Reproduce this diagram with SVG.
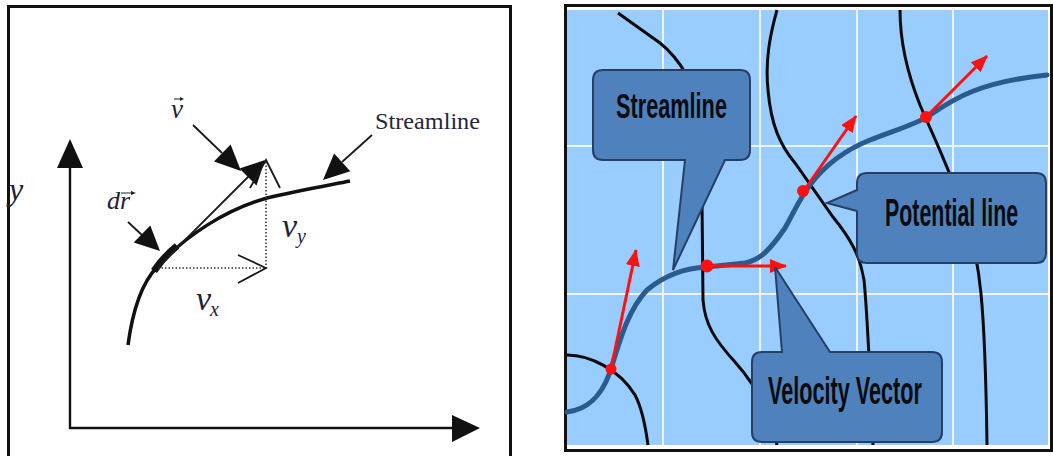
<svg xmlns="http://www.w3.org/2000/svg" width="1053" height="456" viewBox="0 0 1053 456">
<style>
.serif{font-family:"Liberation Serif","Times New Roman",serif;font-style:italic;fill:#1d2236}
.lbl{font-family:"Liberation Serif","Times New Roman",serif;fill:#22273b}
.ax{stroke:#111;stroke-width:2.4;fill:none}
.thin{stroke:#1a1a1a;stroke-width:1.8;fill:none}
.dot{stroke:#333;stroke-width:1.6;fill:none;stroke-dasharray:1.5 2}
.head{fill:#111}
.pot{stroke:#0a0a0a;stroke-width:3;fill:none}
.grid{stroke:#eef4fb;stroke-width:2}
.stream{stroke:#2b5b8e;stroke-width:5;fill:none;stroke-linecap:round}
.vel{stroke:#ff1010;stroke-width:3;fill:none}
.call{fill:#4f81bd;stroke:#263f63;stroke-width:2}
.ct{font-family:"Liberation Sans",Arial,sans-serif;font-weight:bold;fill:#0b0b10}
</style>
<defs>
<marker id="ra" markerUnits="userSpaceOnUse" markerWidth="18" markerHeight="14" refX="16" refY="7" orient="auto">
<path d="M0,0 L17,7 L0,14 Z" fill="#ff1010"/>
</marker>
</defs>
<rect width="1053" height="456" fill="#ffffff"/>

<!-- Left panel -->
<g id="left-panel">
<rect x="8.5" y="6.5" width="502" height="470" fill="#ffffff" stroke="#111" stroke-width="3"/>
</g>
<g id="axes">
<path class="ax" d="M70,166 V428 H454"/>
<polygon class="head" points="70,139 57,168 83,168"/>
<polygon class="head" points="480,428 452,415 452,442"/>
<text class="serif" x="9" y="200" font-size="32">y</text>
</g>
<g id="streamline-curve">
<path d="M128,345 C132,315 140,285 157,267 C185,236 225,210 267,198 C300,190 330,185 350,181" stroke="#111" stroke-width="3.5" fill="none"/>
<path d="M154,271 C160,262 167,254 177,246" stroke="#111" stroke-width="7" fill="none"/>
</g>
<g id="vectors">
<line class="thin" x1="158" y1="267" x2="250" y2="175"/>
<polygon class="head" points="265,160 256.5,185.5 239.5,168.5"/>
<line class="dot" x1="266" y1="162" x2="266" y2="268"/>
<polyline class="thin" points="250,188 266,160 280,188"/>
<line class="dot" x1="158" y1="268" x2="265" y2="268"/>
<polyline class="thin" points="238,255 266,268 238,283"/>
</g>
<g id="label-v">
<text class="serif" x="171" y="118" font-size="27">v</text>
<line x1="174" y1="99" x2="182" y2="99" stroke="#1d2236" stroke-width="1"/>
<polygon points="184,99 180,97 180,101" fill="#1d2236"/>
<line class="thin" x1="193" y1="125" x2="222" y2="153"/>
<polygon class="head" points="241,171 230.6,144.4 214,161.6"/>
</g>
<g id="label-dr">
<text class="serif" x="107" y="209" font-size="26">dr</text>
<line x1="121" y1="193" x2="133" y2="193" stroke="#1d2236" stroke-width="1"/>
<polygon points="136,193 131,191 131,195" fill="#1d2236"/>
<line class="thin" x1="128" y1="222" x2="143" y2="236"/>
<polygon class="head" points="160,251 150.3,225.4 133.7,242.6"/>
</g>
<g id="label-streamline">
<text class="lbl" x="375" y="129" font-size="24" textLength="105" lengthAdjust="spacingAndGlyphs">Streamline</text>
<line class="thin" x1="372" y1="135" x2="342" y2="162"/>
<polygon class="head" points="323,180 350.3,171.2 334.1,153.6"/>
</g>
<g id="label-vy">
<text class="serif" x="282" y="237" font-size="34">v</text>
<text class="serif" x="297" y="243" font-size="20">y</text>
</g>
<g id="label-vx">
<text class="serif" x="196" y="310" font-size="34">v</text>
<text class="serif" x="210" y="316" font-size="20">x</text>
</g>

<!-- Right panel -->
<g id="right-panel">
<rect x="565.5" y="5.5" width="486" height="445" fill="#ffffff" stroke="#111" stroke-width="3"/>
<rect x="567" y="10" width="481" height="435" fill="#99ccff"/>
<line class="grid" x1="663" y1="10" x2="663" y2="445"/>
<line class="grid" x1="760" y1="10" x2="760" y2="445"/>
<line class="grid" x1="857" y1="10" x2="857" y2="445"/>
<line class="grid" x1="953" y1="10" x2="953" y2="445"/>
<line class="grid" x1="567" y1="146" x2="1048" y2="146"/>
<line class="grid" x1="567" y1="294" x2="1048" y2="294"/>
</g>
<g id="potential-lines">
<path class="pot" d="M618,13 L660,43 Q675,55 686,74"/>
<path class="pot" d="M567,355 C590,355 620,370 635,395 C643,410 646,430 648,445"/>
<path class="pot" d="M777,10 C770,35 765,60 768,90 C771,125 780,145 795,163 L833,217 C850,238 860,255 864,280 C868,320 870,380 873,445"/>
<path class="pot" d="M702,200 L703,300 C705,325 715,340 735,362 C760,390 772,420 777,445"/>
<path class="pot" d="M900,10 C900,45 908,75 920,105 C935,140 950,170 965,215 C980,260 985,300 987,445"/>
</g>
<g id="streamline-blue">
<path class="stream" d="M567,412 C585,410 600,400 610,372 C620,340 628,310 647,290 C665,275 685,268 707,267 L745,263 C760,260 770,250 785,228 C795,210 800,198 810,185 C825,165 845,150 870,140 C895,130 915,125 930,115 C955,98 980,82 1047,75"/>
</g>
<g id="velocity-vectors">
<line class="vel" x1="611" y1="369" x2="636" y2="250" marker-end="url(#ra)"/>
<line class="vel" x1="707" y1="266" x2="786" y2="266" stroke-width="5" marker-end="url(#ra)"/>
<line class="vel" x1="803" y1="192" x2="856" y2="116" marker-end="url(#ra)"/>
<line class="vel" x1="926" y1="117" x2="987" y2="56" marker-end="url(#ra)"/>
<circle cx="611" cy="369" r="5.5" fill="#ff1010"/>
<circle cx="707" cy="266" r="6.5" fill="#ff1010"/>
<circle cx="803" cy="191" r="6" fill="#ff1010"/>
<circle cx="926" cy="117" r="6" fill="#ff1010"/>
</g>
<g id="callout-streamline">
<path class="call" d="M603,70 H740 Q750,70 750,80 V150 Q750,160 740,160 H725 L673,270 L685,160 H603 Q593,160 593,150 V80 Q593,70 603,70 Z"/>
<text class="ct" transform="translate(616,118) scale(0.603,1)" x="0" y="0" font-size="36" textLength="184" lengthAdjust="spacingAndGlyphs">Streamline</text>
</g>
<g id="callout-potential">
<path class="call" d="M867,173 H1036 Q1046,173 1046,183 V253 Q1046,263 1036,263 H867 Q857,263 857,253 V211 L827,203 L857,190 V183 Q857,173 867,173 Z"/>
<text class="ct" transform="translate(885,226) scale(0.564,1)" x="0" y="0" font-size="38" textLength="236" lengthAdjust="spacingAndGlyphs">Potential line</text>
</g>
<g id="callout-velocity">
<path class="call" d="M762,352 H782 L775,267 L830,352 H932 Q942,352 942,362 V432 Q942,442 932,442 H762 Q752,442 752,432 V362 Q752,352 762,352 Z"/>
<text class="ct" transform="translate(768,404) scale(0.546,1)" x="0" y="0" font-size="39" textLength="282" lengthAdjust="spacingAndGlyphs">Velocity Vector</text>
</g>
</svg>
